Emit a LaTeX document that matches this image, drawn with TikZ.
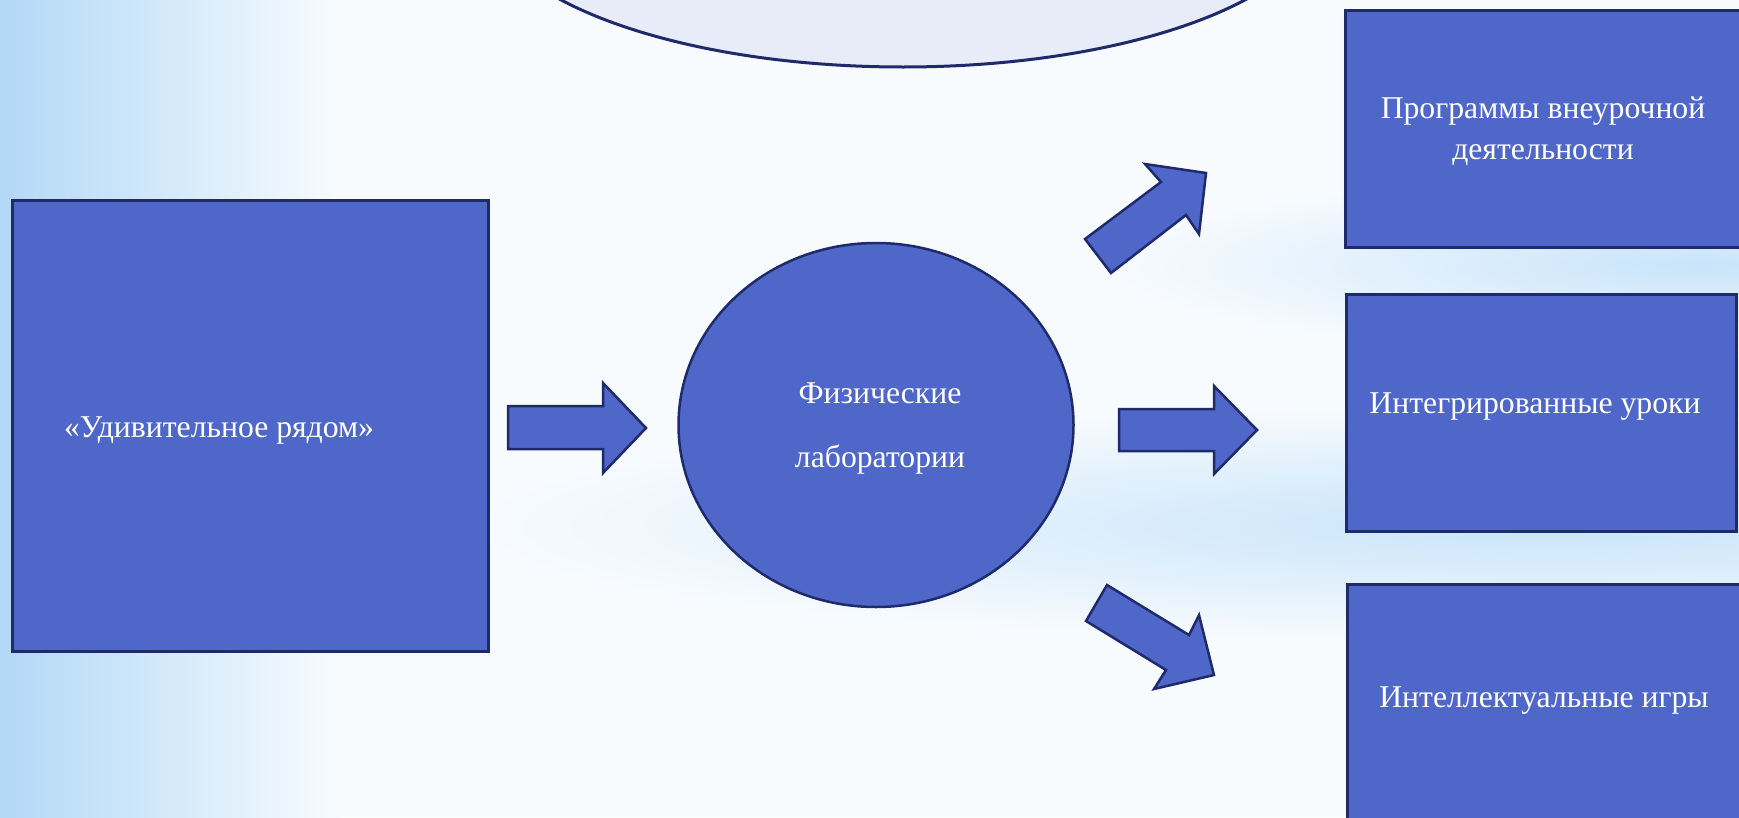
\documentclass[tikz,border=0pt]{standalone}
\usepackage{fontspec}
\setmainfont{Liberation Serif}
\usetikzlibrary{shapes.geometric}
\definecolor{boxfill}{RGB}{79,103,201}
\definecolor{boxline}{RGB}{31,42,107}
\definecolor{topfill}{RGB}{231,236,248}
\definecolor{bgwhite}{RGB}{248,251,254}
\definecolor{bgblue}{RGB}{178,216,247}
\definecolor{bgblueb}{RGB}{200,228,250}
\tikzset{
  blockbox/.style={draw=boxline, fill=boxfill, line width=3pt, rectangle, inner sep=0pt},
  blockell/.style={draw=boxline, fill=boxfill, line width=2.5pt, ellipse, inner sep=0pt},
  blockarrow/.style={draw=boxline, fill=boxfill, line width=2.5pt, line join=miter},
  lbl/.style={text=white, font=\fontsize{31.7}{36}\selectfont, anchor=base, inner sep=0pt},
  glow/.style={inner color=bgblueb, outer color=bgwhite}
}
\begin{document}
\begin{tikzpicture}[x=1pt,y=-1pt]
\useasboundingbox (0,0) rectangle (1739,817);
\clip (0,0) rectangle (1739,817);
% background
\fill[bgwhite] (0,0) rectangle (1739,817);
\shade[left color=bgblue, right color=bgwhite] (0,0) rectangle (340,817);
\shade[glow] (1550,525) ellipse [x radius=1100, y radius=120];
\shade[glow] (1700,265) ellipse [x radius=600, y radius=90];

% top ellipse (cut off)
\node[ellipse, draw=boxline, fill=topfill, line width=3pt, minimum width=840pt, minimum height=320pt] (topell) at (903,-93) {};

% left box
\node[blockbox, minimum width=476pt, minimum height=451pt] (uvd) at (250,426) {};
\node[lbl] (uvdtxt) at (219,437) {«Удивительное рядом»};

% central ellipse
\node[blockell, minimum width=395pt, minimum height=364pt] (lab) at (876,425) {};
\node[lbl] (labtxt1) at (880,403) {Физические};
\node[lbl] (labtxt2) at (880,467) {лаборатории};

% right boxes
\node[blockbox, minimum width=455pt, minimum height=237pt] (prog) at (1572.5,128.5) {};
\node[lbl] (progtxt1) at (1543,118) {Программы внеурочной};
\node[lbl] (progtxt2) at (1543,159) {деятельности};

\node[blockbox, minimum width=390pt, minimum height=237pt] (integ) at (1541,412.5) {};
\node[lbl] (integtxt) at (1535,413) {Интегрированные уроки};

\node[blockbox, minimum width=453pt, minimum height=316pt] (intel) at (1573.5,742) {};
\node[lbl] (inteltxt) at (1544,707) {Интеллектуальные игры};

% block arrows
\draw[blockarrow] (508,406) -- (603,406) -- (603,383) -- (646,428) -- (603,473) -- (603,449) -- (508,449) -- cycle;
\draw[blockarrow] (1119,409) -- (1214,409) -- (1214,386) -- (1257,430) -- (1214,474) -- (1214,451) -- (1119,451) -- cycle;
\draw[blockarrow] (1085,239) -- (1161,182) -- (1145,164) -- (1206,173) -- (1199,234) -- (1186,215) -- (1111,273) -- cycle;
\draw[blockarrow] (1107,585) -- (1189,635) -- (1199,615) -- (1214,675) -- (1154,689) -- (1166,670) -- (1086,621) -- cycle;
\end{tikzpicture}
\end{document}
